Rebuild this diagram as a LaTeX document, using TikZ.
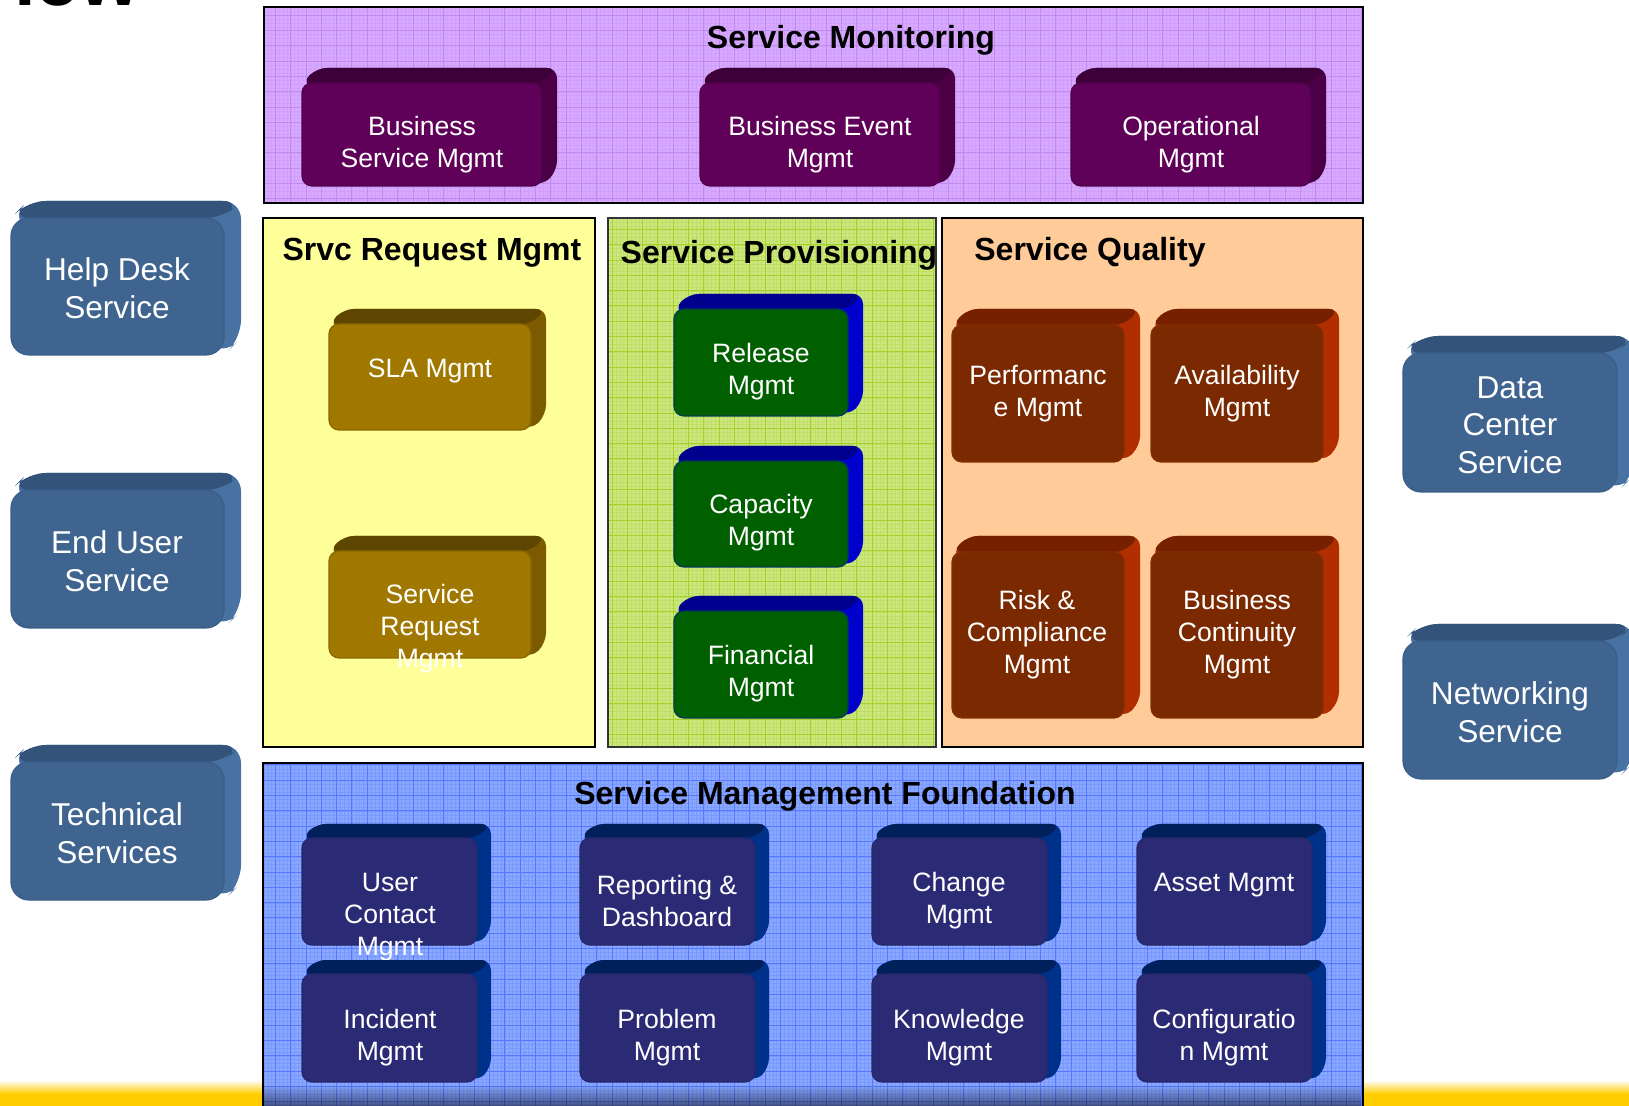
\documentclass[tikz,border=0pt]{standalone}
\usepackage{fontspec}
\setmainfont{Liberation Sans}
\usetikzlibrary{fadings}

\definecolor{monF}{HTML}{D8AAFF}
\definecolor{monG}{HTML}{C08AF0}
\definecolor{reqF}{HTML}{FFFF99}
\definecolor{provF}{HTML}{CCE680}
\definecolor{provG}{HTML}{A6D02A}
\definecolor{qualF}{HTML}{FFCC99}
\definecolor{fndF}{HTML}{8AA8FF}
\definecolor{fndG}{HTML}{5678FF}
\definecolor{barY}{HTML}{FFCC00}
% block faces: F front, T top, S side, L outline
\definecolor{plumF}{HTML}{5F0059}
\definecolor{plumT}{HTML}{3E0039}
\definecolor{plumS}{HTML}{4B0046}
\definecolor{plumL}{HTML}{50004B}
\definecolor{steelF}{HTML}{3E648F}
\definecolor{steelT}{HTML}{33537A}
\definecolor{steelS}{HTML}{4772A2}
\definecolor{steelL}{HTML}{3A5E88}
\definecolor{goldF}{HTML}{A07800}
\definecolor{goldT}{HTML}{5E4500}
\definecolor{goldS}{HTML}{7C5A00}
\definecolor{goldL}{HTML}{8A6600}
\definecolor{leafF}{HTML}{006000}
\definecolor{leafT}{HTML}{00008E}
\definecolor{leafS}{HTML}{0000CC}
\definecolor{leafL}{HTML}{003A5A}
\definecolor{rustF}{HTML}{7A2900}
\definecolor{rustT}{HTML}{772000}
\definecolor{rustS}{HTML}{B02E00}
\definecolor{rustL}{HTML}{862E00}
\definecolor{navyF}{HTML}{2B2A75}
\definecolor{navyT}{HTML}{00205C}
\definecolor{navyS}{HTML}{00318A}
\definecolor{navyL}{HTML}{26286A}

\tikzset{
  panel/.style={draw=black, line width=1pt},
  coarsegrid/.style={line width=0.5pt, step=7.65pt},
  finegrid/.style={line width=0.15pt, step=1.9125pt, opacity=0.3},
  paneltitle/.style={font=\bfseries\fontsize{16}{19}\selectfont, yshift=-1.75pt},
  cubetext/.style={text=white, align=center, font=\fontsize{13.3}{16}\selectfont, yshift=-1.5pt},
  svctext/.style={text=white, align=center, font=\fontsize{15.8}{18.8}\selectfont, yshift=-0.5pt},
}

% #1,#2 front top left, #3,#4 front bottom right, #5 depth, #6 colour set, #7 corner radius
\newcommand{\cube}[7]{%
  \fill[#6S, rounded corners=#7] (#1,#2) -- ({#1+#5},{#2-#5}) -- ({#3+#5},{#2-#5}) -- ({#3+#5},{#4-#5}) -- (#3,#4) -- cycle;
  \fill[#6T, rounded corners=#7] (#1,#2) -- ({#1+#5},{#2-#5}) -- ({#3+#5},{#2-#5}) -- (#3,#2) -- cycle;
  \filldraw[fill=#6F, draw=#6L, line width=0.6pt, rounded corners=#7] (#1,#2) rectangle (#3,#4);
}

\begin{document}
\begin{tikzpicture}[x=0.5pt, y=-0.5pt]
\useasboundingbox (0,0) rectangle (1629,1106);

%footer bar
\shade[top color=white, bottom color=barY] (0,1080) rectangle (1629,1094);
\fill[barY] (0,1094) rectangle (1629,1106);
\node[anchor=base east, font=\bfseries\fontsize{39}{42}\selectfont] (slidetitle) at (147,6) {view};

%Service Monitoring
\fill[monF] (264,7) rectangle (1363,203);
\draw[monG, finegrid] (264,7) grid (1363,203);
\draw[monG, coarsegrid] (264,7) grid (1363,203);
\draw[panel] (264,7) rectangle (1363,203);
\node[paneltitle] (montitle) at (851,37) {Service Monitoring};

\cube{302}{83}{542}{186}{15}{plum}{5pt}
\node[cubetext] (bsm) at (422,142) {Business\\Service Mgmt};
\cube{700}{83}{940}{186}{15}{plum}{5pt}
\node[cubetext] (bem) at (820,142) {Business Event\\Mgmt};
\cube{1071}{83}{1311}{186}{15}{plum}{5pt}
\node[cubetext] (opm) at (1191,142) {Operational\\Mgmt};

%Services left and right
\cube{11}{218}{224}{355}{17}{steel}{9pt}
\node[svctext] (helpdesk) at (117,287) {Help Desk\\Service};
\cube{11}{490}{224}{628}{17}{steel}{9pt}
\node[svctext] (enduser) at (117,560) {End User\\Service};
\cube{11}{762}{224}{900}{17}{steel}{9pt}
\node[svctext] (technical) at (117,832) {Technical\\Services};
\cube{1403}{353}{1617}{492}{17}{steel}{9pt}
\node[svctext] (datacenter) at (1510,424) {Data\\Center\\Service};
\cube{1403}{641}{1617}{779}{17}{steel}{9pt}
\node[svctext] (networking) at (1510,711) {Networking\\Service};

%Srvc Request Mgmt
\fill[reqF] (263,218) rectangle (595,747);
\draw[panel] (263,218) rectangle (595,747);
\node[paneltitle] (reqtitle) at (432,249) {Srvc Request Mgmt};

\cube{329}{324}{531}{430}{15}{gold}{5pt}
\node[cubetext] (sla) at (430,368) {SLA Mgmt};
\cube{329}{551}{531}{658}{15}{gold}{5pt}
\node[cubetext] (srm) at (430,626) {Service\\Request\\Mgmt};

%Service Provisioning
\fill[provF] (608,218) rectangle (936,747);
\draw[provG, finegrid] (608,218) grid (936,747);
\draw[provG, coarsegrid] (608,218) grid (936,747);
\draw[panel, draw=black!80] (608,218) rectangle (936,747);
\node[paneltitle] (provtitle) at (779,252) {Service Provisioning};

\cube{674}{309}{848}{416}{15}{leaf}{5pt}
\node[cubetext] (release) at (761,369) {Release\\Mgmt};
\cube{674}{461}{848}{567}{15}{leaf}{5pt}
\node[cubetext] (capacity) at (761,520) {Capacity\\Mgmt};
\cube{674}{611}{848}{718}{15}{leaf}{5pt}
\node[cubetext] (financial) at (761,671) {Financial\\Mgmt};

%Service Quality
\fill[qualF] (942,218) rectangle (1363,747);
\draw[panel] (942,218) rectangle (1363,747);
\node[paneltitle] (qualtitle) at (1090,249) {Service Quality};

\cube{952}{325}{1124}{462}{16}{rust}{5pt}
\node[cubetext] (perf) at (1038,391) {Performanc\\e Mgmt};
\cube{1151}{325}{1323}{462}{16}{rust}{5pt}
\node[cubetext] (avail) at (1237,391) {Availability\\Mgmt};
\cube{952}{552}{1124}{718}{16}{rust}{5pt}
\node[cubetext] (risk) at (1037,632) {Risk \&\\Compliance\\Mgmt};
\cube{1151}{552}{1323}{718}{16}{rust}{5pt}
\node[cubetext] (continuity) at (1237,632) {Business\\Continuity\\Mgmt};

%Service Management Foundation
\fill[fndF] (263,763) rectangle (1363,1120);
\draw[fndG, finegrid] (263,763) grid (1363,1106);
\draw[fndG, coarsegrid] (263,763) grid (1363,1106);
\fill[black, opacity=0.5, path fading=north] (264,1084) rectangle (1362,1106);
\draw[panel] (263,1120) -- (263,763) -- (1363,763) -- (1363,1120);
\node[paneltitle] (fndtitle) at (825,793) {Service Management Foundation};

\cube{302}{838}{477}{945}{14}{navy}{5pt}
\node[cubetext] (contact) at (390,914) {User\\Contact\\Mgmt};
\cube{580}{838}{755}{945}{14}{navy}{5pt}
\node[cubetext] (reporting) at (667,898) {Reporting \&\\Dashboard};
\cube{872}{838}{1047}{945}{14}{navy}{5pt}
\node[cubetext] (change) at (959,898) {Change\\Mgmt};
\cube{1137}{838}{1312}{945}{14}{navy}{5pt}
\node[cubetext] (asset) at (1224,882) {Asset Mgmt};

\cube{302}{974}{477}{1082}{14}{navy}{5pt}
\node[cubetext] (incident) at (390,1035) {Incident\\Mgmt};
\cube{580}{974}{755}{1082}{14}{navy}{5pt}
\node[cubetext] (problem) at (667,1035) {Problem\\Mgmt};
\cube{872}{974}{1047}{1082}{14}{navy}{5pt}
\node[cubetext] (knowledge) at (959,1035) {Knowledge\\Mgmt};
\cube{1137}{974}{1312}{1082}{14}{navy}{5pt}
\node[cubetext] (config) at (1224,1035) {Configuratio\\n Mgmt};

\end{tikzpicture}
\end{document}
